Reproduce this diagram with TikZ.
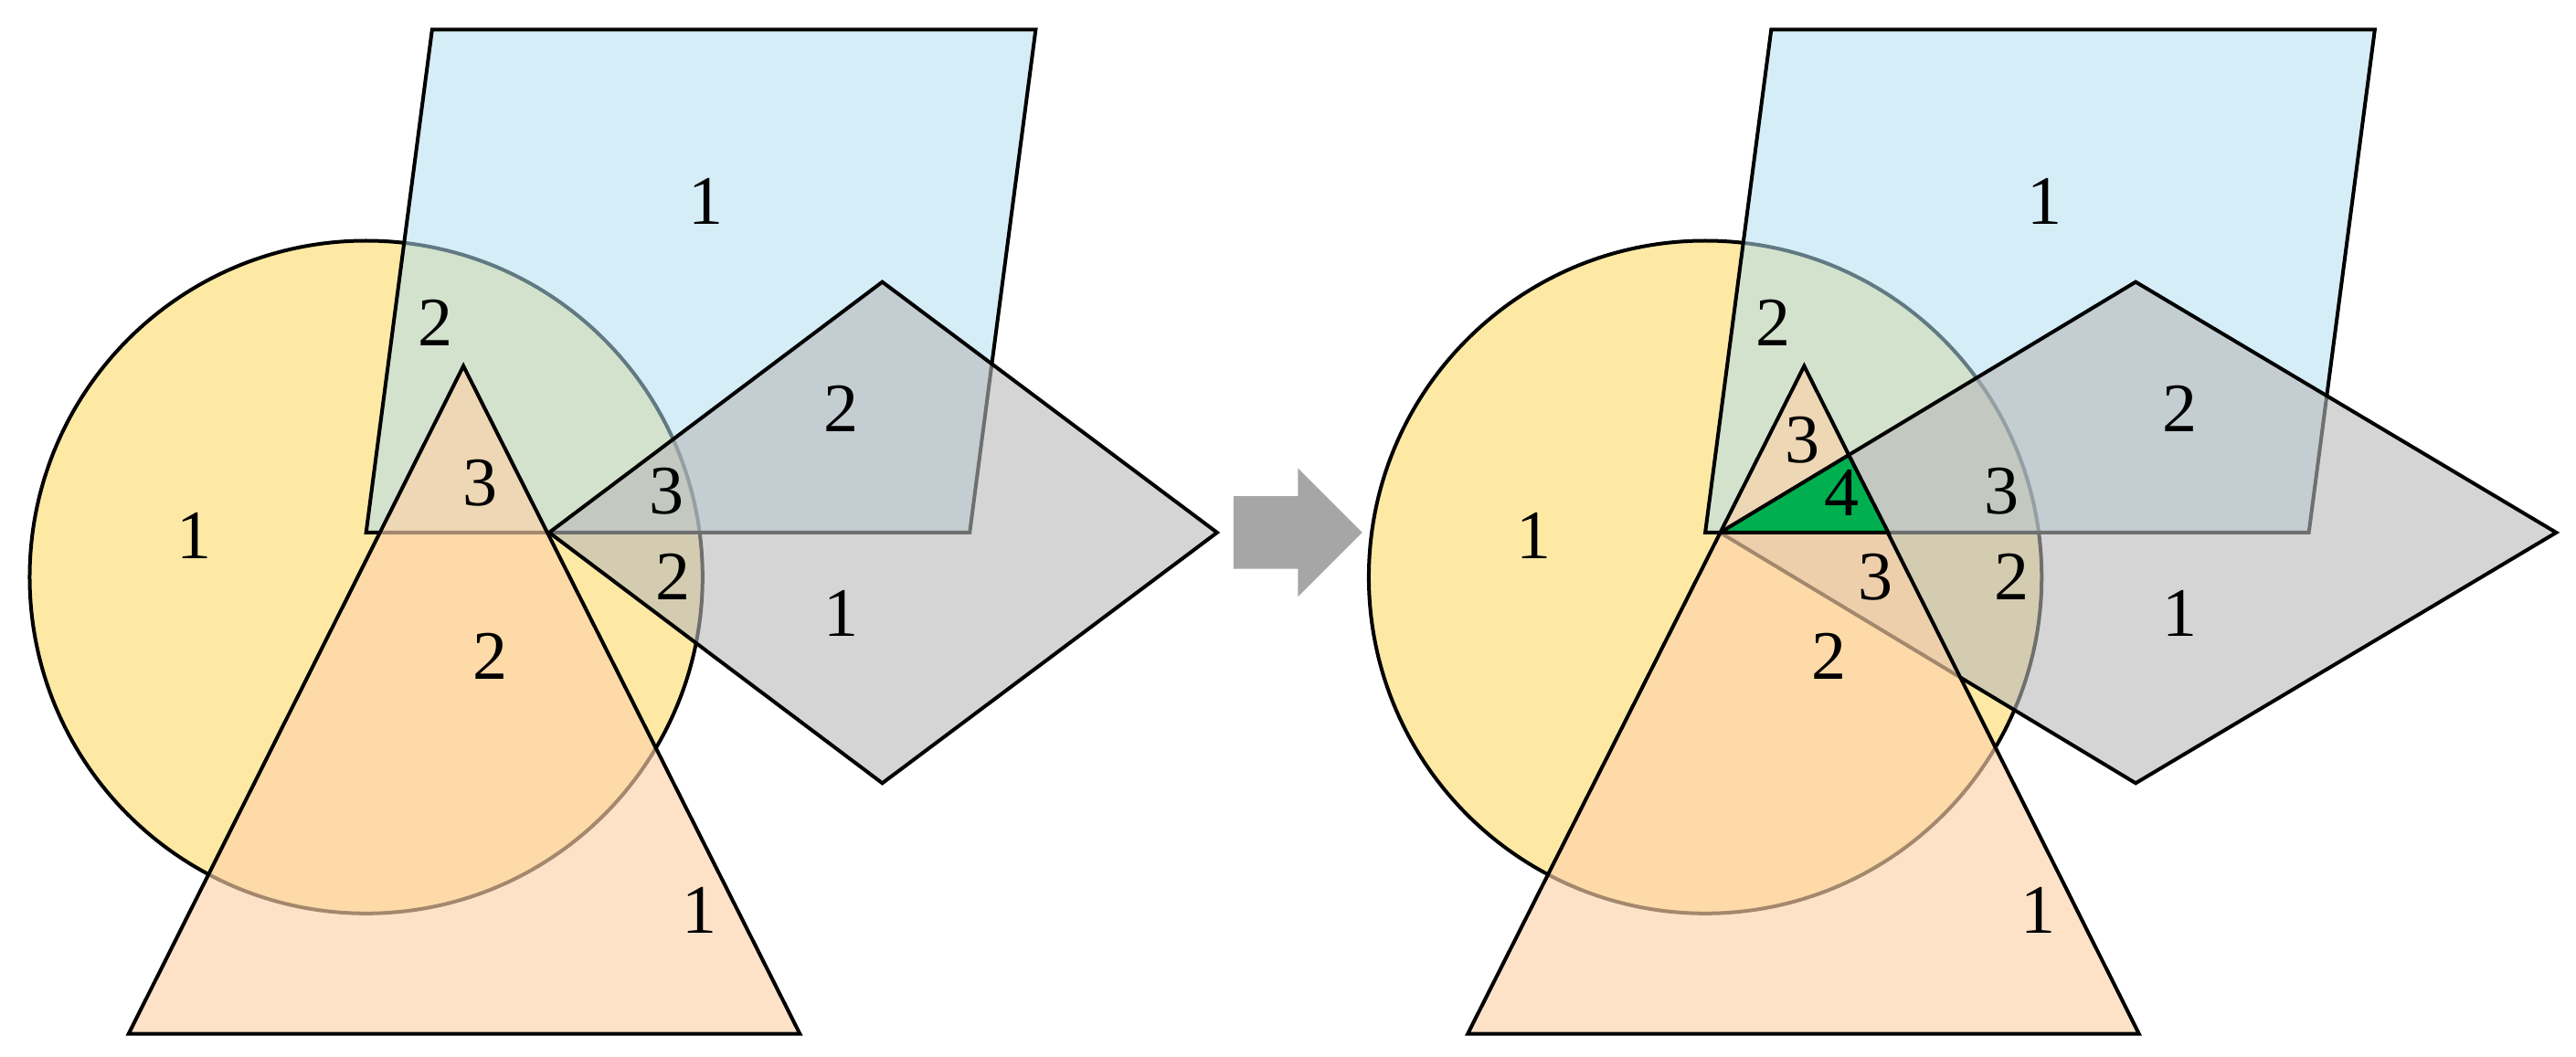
\documentclass[tikz,border=0pt]{standalone}
\usepackage{fontspec}
\setmainfont{Liberation Serif}
\begin{document}
\begin{tikzpicture}[x=1.805pt,y=-1.805pt,line width=4pt,line join=miter,
  lab/.style={font=\fontsize{76}{76}\selectfont,inner sep=0pt},
  circ/.style={draw,fill={rgb,255:red,253;green,233;blue,164}},
  para/.style={draw,fill={rgb,255:red,178;green,222;blue,238},fill opacity=0.55},
  diam/.style={draw,fill={rgb,255:red,185;green,185;blue,185},fill opacity=0.6},
  tri/.style={draw,fill={rgb,255:red,253;green,210;blue,170},fill opacity=0.65}]
\useasboundingbox (0,0) rectangle (1562,641);
\foreach \dx in {0,812}{
  \begin{scope}[shift={(\dx,0)}]
  \draw[circ] (222,350) circle [radius=204];
  \draw[para] (262,18) -- (628,18) -- (588,323) -- (222,323) -- cycle;
  \end{scope}
}
% diamonds
\draw[diam] (333,323) -- (535,171) -- (738,323) -- (535,475) -- cycle;
\draw[diam] (1043,323) -- (1295,171) -- (1550,323) -- (1295,475) -- cycle;
% triangles
\draw[tri] (281,222) -- (485,627) -- (78,627) -- cycle;
\draw[tri] (1094,222) -- (1297,627) -- (890,627) -- cycle;
% green region
\draw[fill={rgb,255:red,0;green,176;blue,80}] (1043,323) -- (1121,276) -- (1145,323) -- cycle;
% arrow
\fill[gray!70] (748,301) -- (787,301) -- (787,284) -- (826,323) -- (787,362) -- (787,345) -- (748,345) -- cycle;
% labels
\foreach \x/\y/\t [count=\i] in {428/122/1,264/196/2,510/248/2,118/325/1,291/293/3,404/298/3,408/350/2,510/372/1,297/398/2,424/552/1,
 1240/122/1,1075/196/2,1322/248/2,930/325/1,1093/267/3,1117/299/4,1214/298/3,1137/350/3,1220/350/2,1322/372/1,1109/398/2,1236/552/1}
  \node[lab] (l\i) at (\x,\y) {\t};
\end{tikzpicture}
\end{document}
